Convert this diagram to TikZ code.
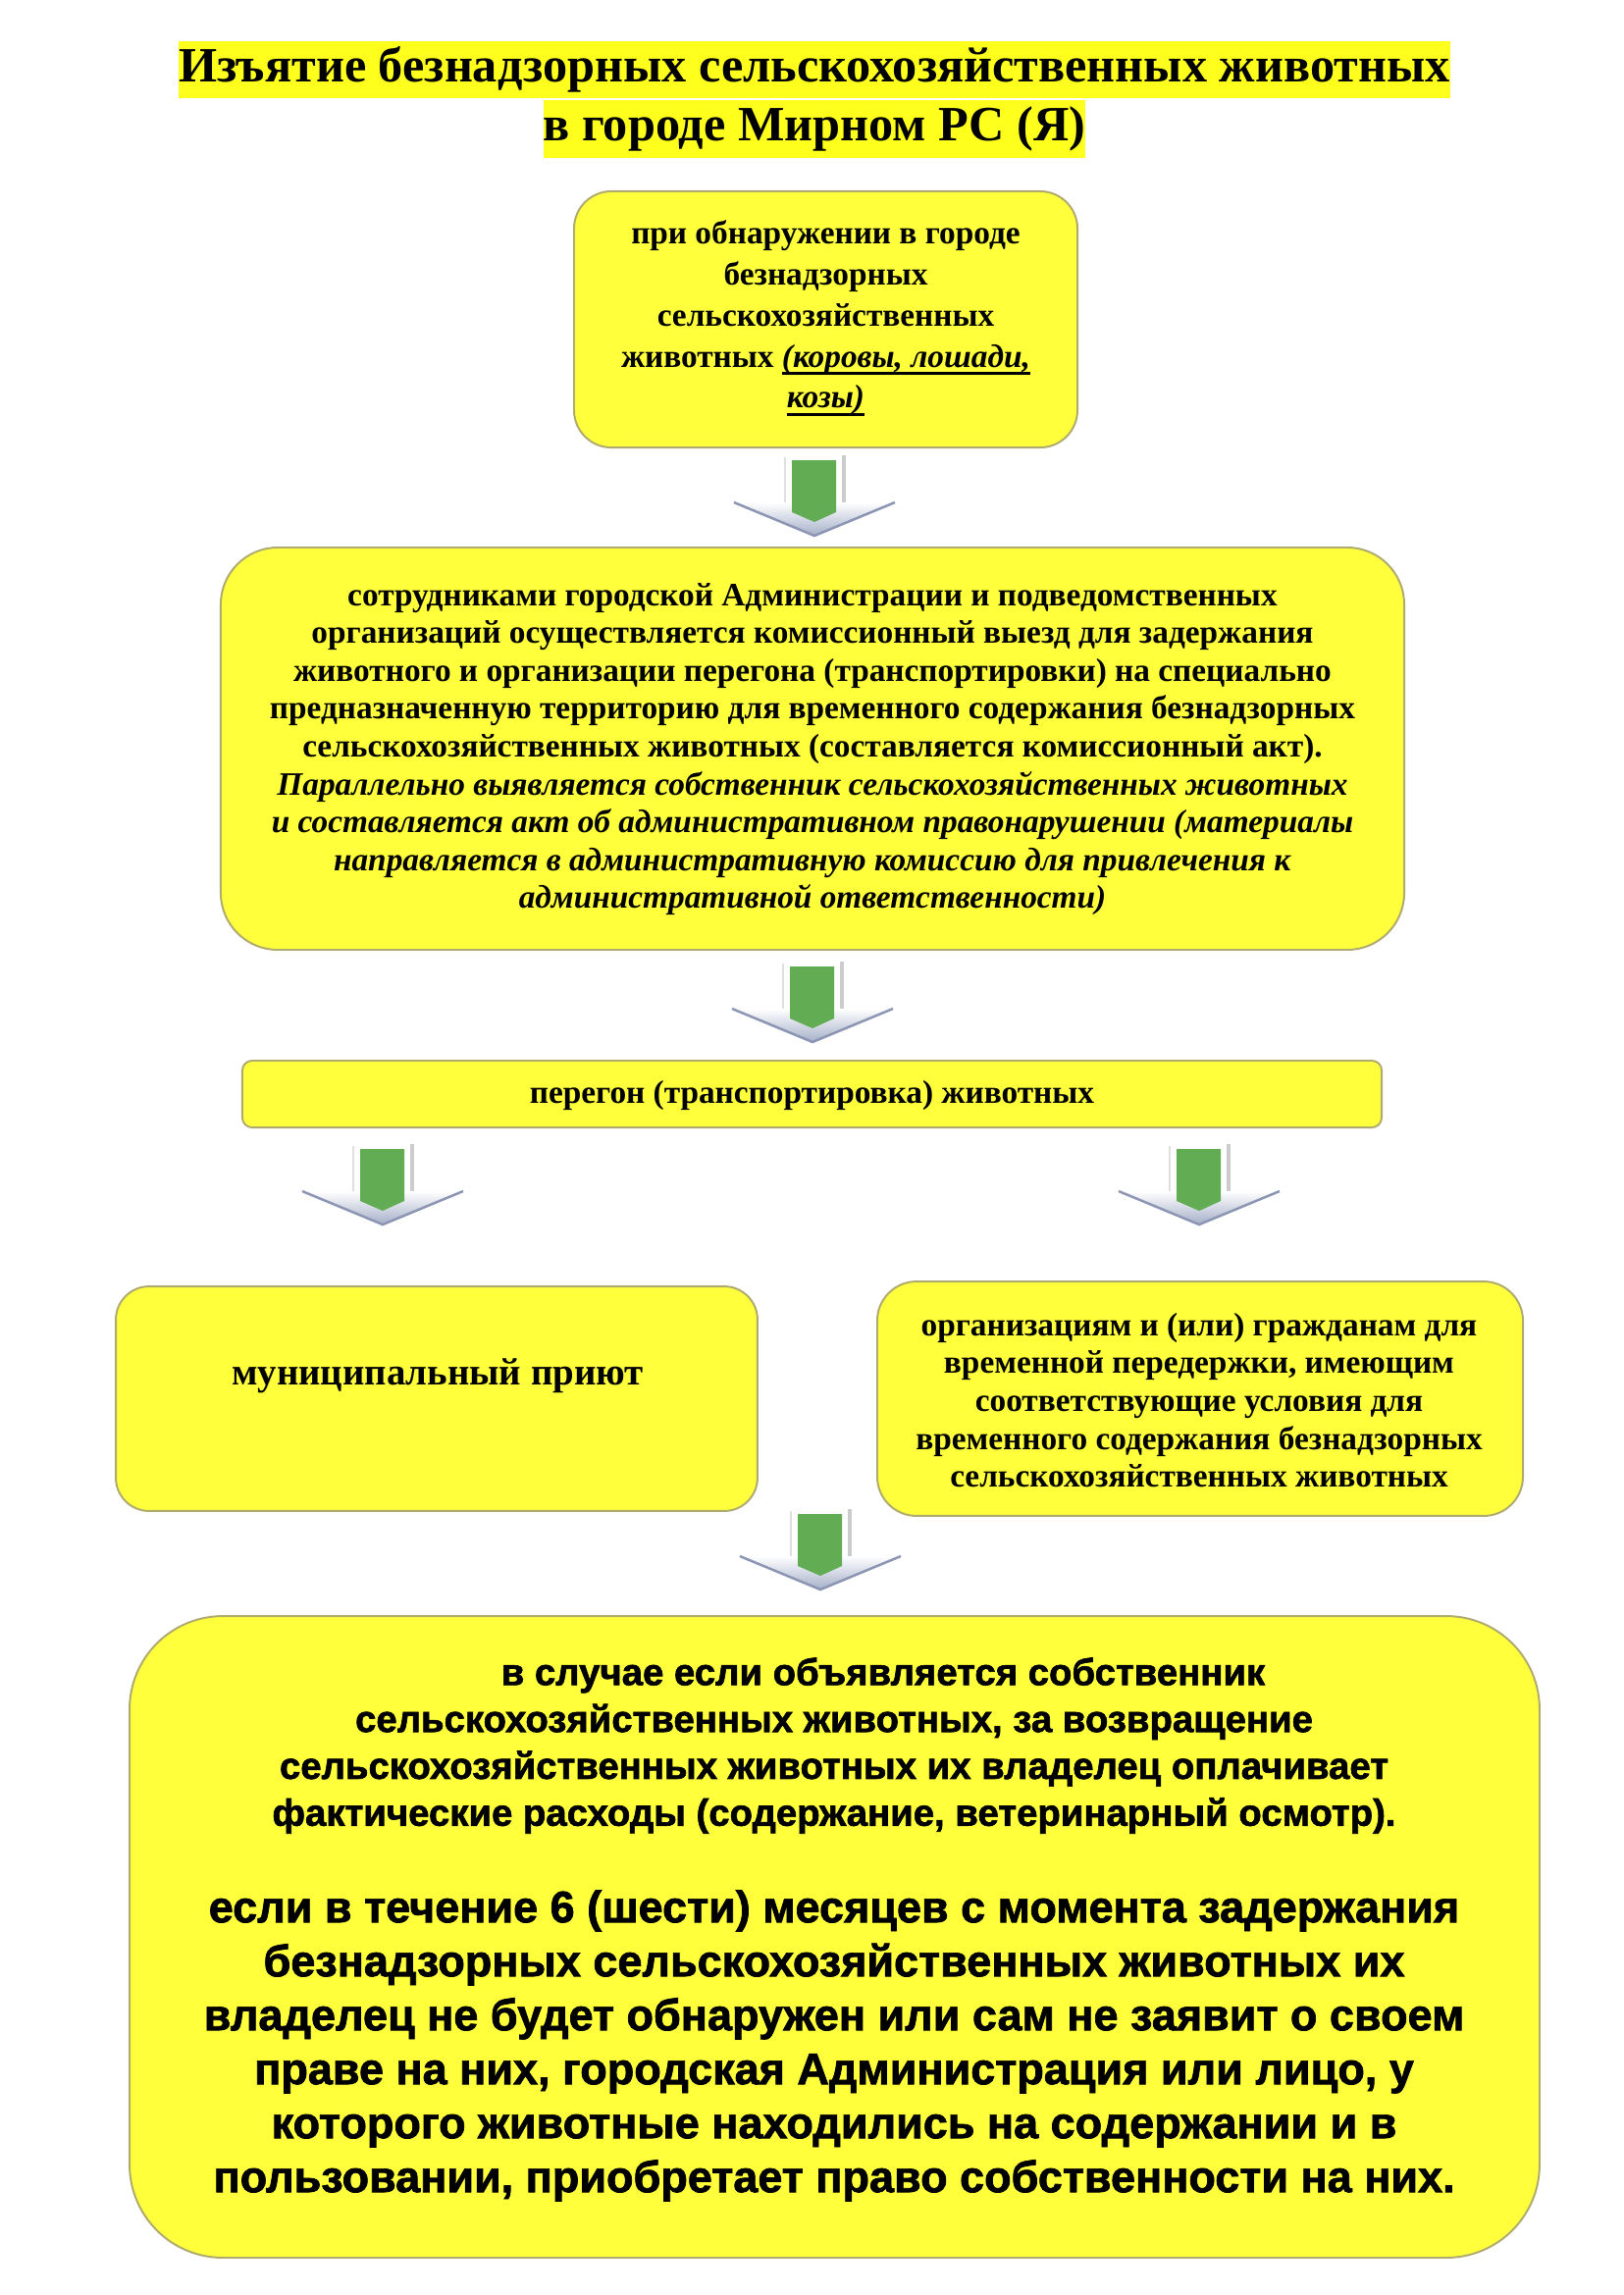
\documentclass[tikz,border=0pt]{standalone}
\usepackage{fontspec}
\setmainfont{Liberation Serif}
\newfontfamily\arialbold[FakeBold=1.6]{Liberation Sans Bold}
\newsavebox{\ulbox}
\newcommand{\myul}[1]{\sbox{\ulbox}{#1}\rlap{\rule[-2.8pt]{\wd\ulbox}{1.1pt}}\usebox{\ulbox}}
\usetikzlibrary{calc}
\definecolor{boxfill}{RGB}{255,255,60}
\definecolor{boxline}{RGB}{175,170,110}
\definecolor{titlehl}{RGB}{255,255,30}
\definecolor{arrgreen}{RGB}{98,172,84}
\definecolor{arrgray}{RGB}{165,175,200}
\definecolor{arredge}{RGB}{140,150,180}
\newcommand{\myblockarrow}[2]{%
 \begin{scope}[shift={(#1,#2)}]
  \fill[white] (-30,0) rectangle (30,52);
  \draw[gray!25, line width=1pt] (-30,4) -- (-30,50);
  \draw[gray!40, line width=1.2pt] (30,2) -- (30,50);
  \shade[top color=white, bottom color=arrgray] (-82,50) -- (82,50) -- (0,84) -- cycle;
  \draw[arredge, line width=0.9pt] (-82,50) -- (0,84) -- (82,50);
  \fill[arrgreen] (-23,7) -- (22,7) -- (22,60) -- (0,70) -- (-23,60) -- cycle;
 \end{scope}}
\tikzset{
  box/.style={draw=boxline, line width=0.7pt, fill=boxfill, inner sep=0pt},
  txt/.style={align=center, inner sep=0pt},
  titlebox/.style={fill=titlehl, inner xsep=0pt, inner ysep=0pt, minimum height=21pt,
     font=\fontsize{18.1}{22}\selectfont\bfseries}
}
\begin{document}
\begin{tikzpicture}[x=0.36pt,y=-0.36pt]
\useasboundingbox (0,0) rectangle (1654,2339);
\fill[white] (0,0) rectangle (1654,2339);

% title
\node[titlebox] (t1) at (830,71) {Изъятие безнадзорных сельскохозяйственных животных};
\node[titlebox] (t2) at (830,131.5) {в городе Мирном РС (Я)};

% boxes
\node[box, minimum width=184.7pt, minimum height=94pt, rounded corners=13.7pt] (b1) at (841.5,325.5) {};
\node[txt, font=\fontsize{12}{15.1}\selectfont\bfseries] (b1t) at (841.5,324) {при обнаружении в городе\\
безнадзорных\\ сельскохозяйственных\\
животных \myul{\textit{(коровы, лошади,}}\\ \myul{\textit{козы)}}};

\node[box, minimum width=434.2pt, minimum height=147.6pt, rounded corners=20.9pt] (b2) at (828,763) {};
\node[txt, font=\fontsize{12}{13.9}\selectfont\bfseries] (b2t) at (828,763.5) {сотрудниками городской Администрации и подведомственных\\
организаций осуществляется комиссионный выезд для задержания\\
животного и организации перегона (транспортировки) на специально\\
предназначенную территорию для временного содержания безнадзорных\\
сельскохозяйственных животных (составляется комиссионный акт).\\
\textit{Параллельно выявляется собственник сельскохозяйственных животных}\\
\textit{и составляется акт об административном правонарушении (материалы}\\
\textit{направляется в административную комиссию для привлечения к}\\
\textit{административной ответственности)}};

\node[box, minimum width=418pt, minimum height=24.5pt, rounded corners=3.6pt] (b3) at (827.5,1115) {};
\node[txt, font=\fontsize{12}{13.9}\selectfont\bfseries] (b3t) at (827.5,1116) {перегон (транспортировка) животных};

\node[box, minimum width=235.4pt, minimum height=82.4pt, rounded corners=12.2pt] (b4l) at (445,1425.5) {};
\node[txt, font=\fontsize{14}{16}\selectfont\bfseries] (b4lt) at (446,1402) {муниципальный приют};

\node[box, minimum width=236.9pt, minimum height=86pt, rounded corners=14.4pt] (b4r) at (1223,1425.5) {};
\node[txt, font=\fontsize{12}{13.9}\selectfont\bfseries] (b4rt) at (1222,1427) {организациям и (или) гражданам для\\
временной передержки, имеющим\\ соответствующие условия для\\
временного содержания безнадзорных\\ сельскохозяйственных животных};

\node[box, minimum width=517.3pt, minimum height=235.4pt, rounded corners=34.2pt] (b5) at (850.5,1974) {};
\node[txt, font=\arialbold\fontsize{13.8}{17.2}\selectfont] (b5a) at (850,1779) {\hspace*{36pt}в случае если объявляется собственник\\
сельскохозяйственных животных, за возвращение\\
сельскохозяйственных животных их владелец оплачивает\\
фактические расходы (содержание, ветеринарный осмотр).};
\node[txt, font=\arialbold\fontsize{16.2}{19.8}\selectfont] (b5b) at (850,2085) {если в течение 6 (шести) месяцев с момента задержания\\
безнадзорных сельскохозяйственных животных их\\
владелец не будет обнаружен или сам не заявит о своем\\
праве на них, городская Администрация или лицо, у\\
которого животные находились на содержании и в\\
пользовании, приобретает право собственности на них.};

% arrows
\myblockarrow{830}{462}
\myblockarrow{828}{978}
\myblockarrow{390}{1164}
\myblockarrow{1222}{1164}
\myblockarrow{836}{1536}
\end{tikzpicture}
\end{document}
